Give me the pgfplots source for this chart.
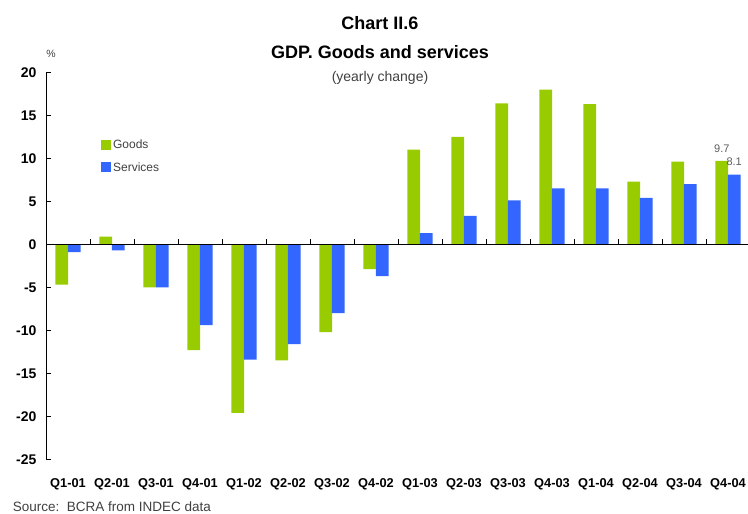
\documentclass[border=0pt]{standalone}
\usepackage{fontspec}
\setmainfont{Liberation Sans}
\usepackage{pgfplots}
\usepackage{pgfplotstable}
\pgfplotsset{compat=1.18}
\definecolor{goods}{RGB}{153,204,0}
\definecolor{serv}{RGB}{51,102,255}
\definecolor{txtgray}{RGB}{64,64,64}
\pgfplotstableread{
x g s gl sl
0 -4.7 -0.9 {} {}
1 0.9 -0.7 {} {}
2 -5.0 -5.0 {} {}
3 -12.3 -9.4 {} {}
4 -19.6 -13.4 {} {}
5 -13.5 -11.6 {} {}
6 -10.2 -8.0 {} {}
7 -2.9 -3.7 {} {}
8 11.0 1.3 {} {}
9 12.5 3.3 {} {}
10 16.4 5.1 {} {}
11 18.0 6.5 {} {}
12 16.3 6.5 {} {}
13 7.3 5.4 {} {}
14 9.6 7.0 {} {}
15 9.7 8.1 9.7 8.1
}\data
\begin{document}
\begin{tikzpicture}[x=1pt,y=1pt]
\path[use as bounding box] (0,0) rectangle (748,514);
\begin{axis}[
  at={(46pt,54.7pt)}, anchor=south west,
  scale only axis, width=704pt, height=387pt,
  xmin=-0.5, xmax=15.5, ymin=-25, ymax=20,
  axis x line*=bottom, x axis line style={draw=none},
  axis y line*=left, y axis line style={black, line width=0.8pt},
  ytick={-25,-20,...,20},
  ytick align=inside,
  ytick style={black, line width=0.8pt},
  major tick length=5pt,
  xtick={0,...,15},
  xtick style={draw=none},
  xticklabels={Q1-01,Q2-01,Q3-01,Q4-01,Q1-02,Q2-02,Q3-02,Q4-02,Q1-03,Q2-03,Q3-03,Q4-03,Q1-04,Q2-04,Q3-04,Q4-04},
  xticklabel style={font=\fontsize{12.8}{12.8}\selectfont\bfseries, yshift=-11pt},
  yticklabel style={font=\fontsize{14}{14}\selectfont\bfseries, xshift=-6pt},
  /pgf/number format/assume math mode=true,
  ybar, bar width=0.29,
  point meta=explicit symbolic,
  nodes near coords,
  nodes near coords style={font=\fontsize{11}{11}\selectfont, text=txtgray!85, anchor=south, yshift=5pt},
  legend style={at={(axis cs:0.68,12.6)}, anchor=north west, draw=none, fill=none,
    font=\fontsize{12}{12}\selectfont, text=txtgray, row sep=8pt,
    /tikz/every even column/.append style={column sep=2pt}},
  legend cell align=left,
  legend image code/.code={\fill[#1] (0pt,-5pt) rectangle (10pt,5pt);},
  clip=false,
]
\addplot[fill=goods, draw=none, bar shift=-0.14] table[x=x, y=g, meta=gl] {\data};
\addlegendentry{Goods}
\addplot[fill=serv, draw=none, bar shift=0.14] table[x=x, y=s, meta=sl] {\data};
\addlegendentry{Services}
\draw[black, line width=1.5pt] (axis cs:-0.5,0) -- (axis cs:15.5,0);
\pgfplotsinvokeforeach{0,...,14}{\draw[black, line width=0.8pt] (axis cs:#1.5,0) -- ++(0pt,5pt);}
\end{axis}
\node[font=\fontsize{18}{18}\selectfont\bfseries, anchor=base] at (380,484.7) {Chart II.6};
\node[font=\fontsize{18}{18}\selectfont\bfseries, anchor=base] at (380,455.7) {GDP. Goods and services};
\node[font=\fontsize{14}{14}\selectfont, text=txtgray, anchor=base] at (380,432) {(yearly change)};
\node[font=\fontsize{10.5}{10.5}\selectfont, text=txtgray, anchor=base] at (51,456) {\%};
\node[font=\fontsize{13.5}{13.5}\selectfont, text=txtgray, anchor=base west, inner sep=0pt] at (12.7,2) {Source:\ \ BCRA from INDEC data};
\end{tikzpicture}
\end{document}
